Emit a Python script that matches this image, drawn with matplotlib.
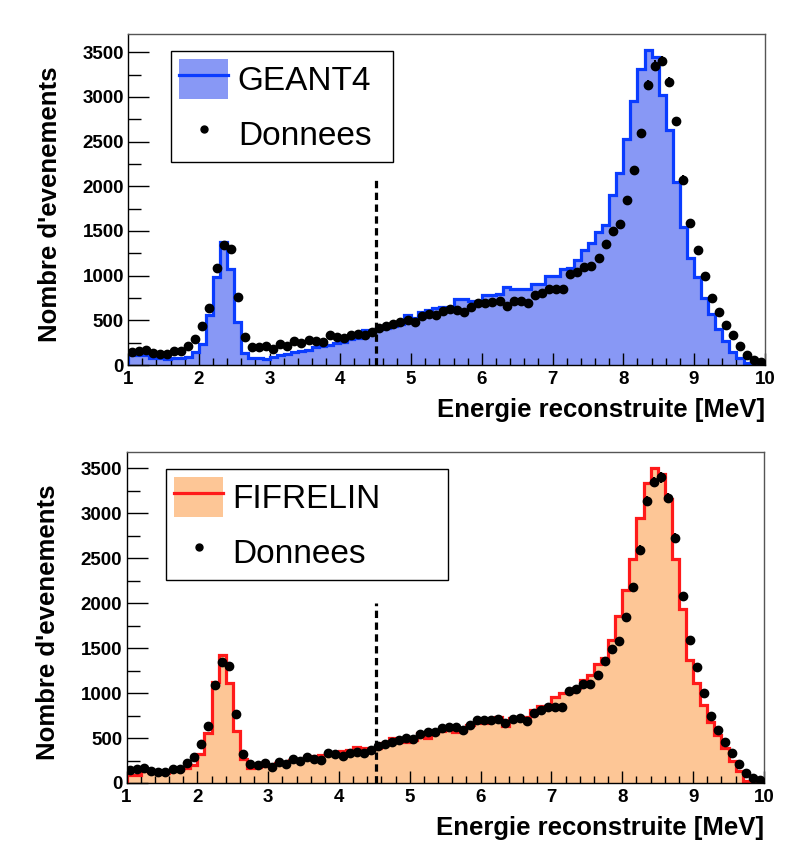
import numpy as np
import matplotlib
matplotlib.use("Agg")
import matplotlib.pyplot as plt
from matplotlib.patches import Patch
from matplotlib.lines import Line2D
from matplotlib.ticker import MultipleLocator

plt.rcParams['font.family'] = ['Liberation Sans', 'DejaVu Sans']

# bins of 0.1 MeV from 1 to 10 MeV
edges = np.round(np.arange(1.0, 10.01, 0.1), 2)
centers = 0.5 * (edges[:-1] + edges[1:])

# measured data (same in both panels)
donnees = [145, 152, 172, 138, 124, 120, 159, 158, 217, 290,
           436, 634, 1086, 1348, 1300, 765, 318, 206, 198, 217,
           176, 232, 215, 264, 245, 284, 264, 260, 339, 318,
           297, 335, 343, 335, 372, 417, 432, 454, 478, 502,
           486, 548, 566, 564, 610, 625, 619, 595, 645, 697,
           697, 704, 712, 666, 714, 721, 695, 782, 810, 847,
           847, 849, 1023, 1045, 1100, 1104, 1196, 1358, 1496, 1575,
           1842, 2178, 2593, 3138, 3350, 3400, 3168, 2728, 2075, 1588,
           1292, 1001, 745, 595, 452, 336, 208, 112, 56, 34]

# GEANT4 simulation
geant4 = [120, 118, 112, 78, 75, 65, 80, 82, 95, 145,
          235, 555, 990, 1378, 1076, 480, 138, 82, 74, 67,
          93, 112, 123, 145, 153, 167, 205, 212, 223, 249,
          257, 290, 300, 390, 395, 400, 410, 440, 460, 555,
          530, 590, 615, 635, 645, 650, 737, 740, 715, 715,
          782, 789, 795, 875, 856, 856, 849, 905, 912, 1000,
          995, 1070, 1090, 1170, 1290, 1360, 1490, 1564, 1899, 2152,
          2532, 2949, 3313, 3526, 3444, 3023, 2625, 2048, 1545, 1199,
          987, 752, 566, 398, 268, 145, 74, 19, 7, 7]

# FIFRELIN simulation
fifrelin = [85, 85, 129, 118, 118, 111, 140, 140, 166, 203,
            325, 561, 1125, 1421, 1107, 579, 266, 166, 173, 185,
            203, 221, 229, 258, 266, 288, 303, 306, 325, 332,
            351, 369, 395, 387, 387, 387, 450, 506, 480, 461,
            480, 553, 498, 553, 579, 590, 572, 583, 646, 675,
            671, 701, 738, 638, 720, 731, 738, 812, 856, 860,
            952, 996, 1015, 1052, 1144, 1199, 1328, 1395, 1587, 1863,
            2151, 2491, 2952, 3339, 3506, 3439, 3155, 2491, 1937, 1365,
            1107, 867, 683, 535, 387, 240, 129, 18, 11, 11]

panels = [
    dict(sim=geant4, name="GEANT4", fill="#8898f5", line="#0a3cff",
         rect=[0.158, 0.577, 0.785, 0.3835], cut=4.5, cut_top=2100,
         leg=(0.0675, 0.949, 0.349)),
    dict(sim=fifrelin, name="FIFRELIN", fill="#fdc696", line="#ff1a1a",
         rect=[0.156, 0.0927, 0.786, 0.3835], cut=4.52, cut_top=2000,
         leg=(0.062, 0.949, 0.442)),
]

fig = plt.figure(figsize=(8.11, 8.63), dpi=100)

for p in panels:
    ax = fig.add_axes(p["rect"])
    sim = np.array(p["sim"], dtype=float)
    data = np.array(donnees, dtype=float)

    ax.stairs(sim, edges, fill=True, color=p["fill"], zorder=1)
    ax.stairs(sim, edges, color=p["line"], lw=2.3, zorder=2)
    ax.errorbar(centers, data, yerr=np.sqrt(data), fmt='o', color='black',
                ms=6, elinewidth=1.5, capsize=0, zorder=3)
    ax.plot([p["cut"], p["cut"]], [0, p["cut_top"]], color='black', lw=2.3,
            linestyle=(0, (2.3, 1.4)), zorder=4)

    ax.set_xlim(1, 10)
    ax.set_ylim(0, 1.05 * sim.max())
    ax.xaxis.set_major_locator(MultipleLocator(1))
    ax.xaxis.set_minor_locator(MultipleLocator(0.2))
    ax.yaxis.set_major_locator(MultipleLocator(500))
    ax.yaxis.set_minor_locator(MultipleLocator(250))
    ax.tick_params(axis='x', which='major', direction='in', length=9, width=1,
                   labelsize=13.5, pad=4)
    ax.tick_params(axis='x', which='minor', direction='in', length=5, width=1)
    ax.tick_params(axis='y', which='major', direction='in', length=15, width=1,
                   labelsize=13.5, pad=3)
    ax.tick_params(axis='y', which='minor', direction='in', length=9, width=1)
    for lab in ax.get_xticklabels() + ax.get_yticklabels():
        lab.set_fontweight('bold')
    for s in ax.spines.values():
        s.set_linewidth(1.0)
    ax.spines['top'].set_color('#555555')
    ax.spines['right'].set_color('#555555')

    ax.set_xlabel("Energie reconstruite [MeV]", fontsize=18.5, fontweight='bold',
                  ha='right', va='top')
    ax.xaxis.set_label_coords(1.0, -0.10)
    ax.set_ylabel("Nombre d'evenements", fontsize=18.5, fontweight='bold')
    ax.yaxis.set_label_coords(-0.104, 0.487)

    h_sim = (Patch(facecolor=p["fill"], edgecolor='none'),
             Line2D([], [], color=p["line"], lw=2.3))
    h_dat = Line2D([], [], marker='o', color='black', ls='none', ms=5)
    x0, ytop, w = p["leg"]
    leg = ax.legend([h_sim, h_dat], [p["name"], "Donnees"], loc='upper left',
                    bbox_to_anchor=(x0, ytop - 0.5, w, 0.5), mode='expand',
                    fontsize=24, handlelength=1.45, handleheight=1.45,
                    handletextpad=0.3, labelspacing=0.45, borderpad=0.25,
                    borderaxespad=0, fancybox=False, framealpha=1,
                    edgecolor='black')
    leg.get_frame().set_linewidth(1.0)

fig.savefig("out.png", dpi=100)
